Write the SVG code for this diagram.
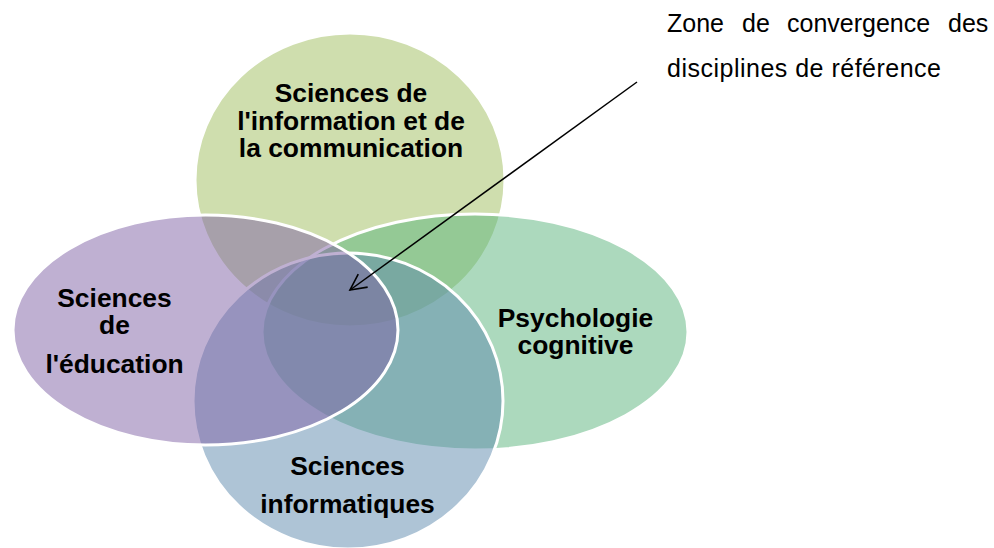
<svg xmlns="http://www.w3.org/2000/svg" width="994" height="548" viewBox="0 0 994 548">
<defs>
<style>
.c{stroke:#fff;stroke-width:3;fill-opacity:0.5}
.t{font-family:"Liberation Sans",Arial,sans-serif;font-weight:bold;font-size:26.4px;fill:#000;text-anchor:middle}
.n{font-family:"Liberation Sans",Arial,sans-serif;font-size:25px;fill:#000}
</style>
<marker id="ah" viewBox="0 0 20 20" refX="18" refY="10" markerWidth="20" markerHeight="20" markerUnits="userSpaceOnUse" orient="auto">
<path d="M2,2 L18,10 L2,18" fill="none" stroke="#000" stroke-width="1.6"/>
</marker>
</defs>
<rect width="994" height="548" fill="#fff"/>
<g id="sic">
<ellipse class="c" cx="350" cy="180" rx="155" ry="147" fill="#9fbd5d"/>
<text class="t" x="351" y="102">Sciences de</text>
<text class="t" x="351" y="130">l'information et de</text>
<text class="t" x="351" y="157">la communication</text>
</g>
<g id="psy">
<ellipse class="c" cx="475" cy="332" rx="213" ry="118" fill="#59b37b"/>
<text class="t" x="575.5" y="327">Psychologie</text>
<text class="t" x="575.5" y="354">cognitive</text>
</g>
<g id="info">
<ellipse class="c" cx="348" cy="401" rx="155" ry="148" fill="#5d89ad"/>
<text class="t" x="347.5" y="475">Sciences</text>
<text class="t" x="347.5" y="513">informatiques</text>
</g>
<g id="edu">
<ellipse class="c" cx="205.5" cy="330" rx="192.5" ry="115" fill="#7f61a5"/>
<text class="t" x="114.5" y="307">Sciences</text>
<text class="t" x="114.5" y="334">de</text>
<text class="t" x="114.5" y="373">l'éducation</text>
</g>
<g id="connectors">
<line x1="637" y1="82" x2="350" y2="290" stroke="#000" stroke-width="1.5" marker-end="url(#ah)"/>
</g>
<g id="note">
<text class="n" y="32"><tspan x="667">Zone</tspan> <tspan x="742">de</tspan> <tspan x="787">convergence</tspan> <tspan x="948">des</tspan></text>
<text class="n" x="667" y="77" textLength="274">disciplines de référence</text>
</g>
</svg>
